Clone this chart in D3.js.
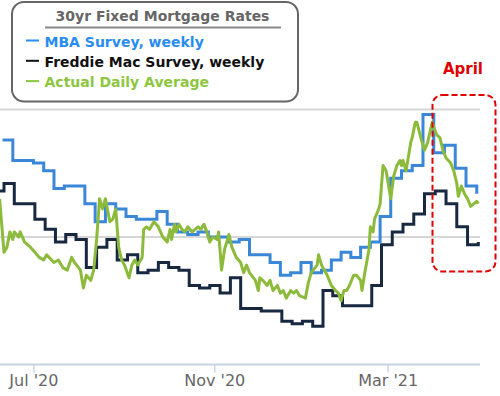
<!DOCTYPE html>
<html>
<head>
<meta charset="utf-8">
<script src="https://cdn.jsdelivr.net/npm/d3@7"></script>
<style>
  html, body { margin: 0; padding: 0; background: #fff; }
  svg { display: block; font-family: "DejaVu Sans", Verdana, sans-serif; }
</style>
</head>
<body>
<div id="chart"></div>
<script>
// Freddie Mac PMMS, weekly (Thursdays) starting 2020-06-04
const freddieStart = "2020-06-04";
const freddieRates = [3.18, 3.21, 3.13, 3.13, 3.07, 3.03, 2.98, 3.01, 2.99, 2.88, 2.96, 2.99,
  2.91, 2.93, 2.86, 2.87, 2.90, 2.88, 2.87, 2.81, 2.80, 2.81, 2.78, 2.84, 2.72, 2.72, 2.71, 2.71,
  2.67, 2.66, 2.67, 2.65, 2.79, 2.77, 2.73, 2.73, 2.73, 2.81, 2.97, 3.02, 3.05, 3.09, 3.17, 3.18,
  3.13, 3.04, 2.97, 2.98];

// MBA survey, weekly (Wednesdays) starting 2020-06-10
const mbaStart = "2020-06-10";
const mbaRates = [3.38, 3.30, 3.30, 3.29, 3.26, 3.19, 3.20, 3.20, 3.13, 3.06, 3.13, 3.11,
  3.08, 3.07, 3.07, 3.10, 3.05, 3.02, 3.01, 3.02, 3.00, 3.00, 2.98, 2.99, 2.93, 2.93, 2.90, 2.85,
  2.86, 2.90, 2.86, 2.87, 2.91, 2.94, 2.92, 2.96, 2.98, 3.08, 3.23, 3.26, 3.28, 3.48, 3.33, 3.36,
  3.27, 3.20, 3.17];

// actual daily average
const dailyDates = ["2020-06-08", "2020-06-11", "2020-06-13", "2020-06-15", "2020-06-17", "2020-06-18",
  "2020-06-21", "2020-06-22", "2020-06-25", "2020-06-29", "2020-07-02", "2020-07-05", "2020-07-08",
  "2020-07-10", "2020-07-15", "2020-07-18", "2020-07-21", "2020-07-24", "2020-07-27", "2020-07-29",
  "2020-08-02", "2020-08-04", "2020-08-06", "2020-08-09", "2020-08-11", "2020-08-13", "2020-08-15",
  "2020-08-17", "2020-08-19", "2020-08-22", "2020-08-24", "2020-08-26", "2020-08-28", "2020-08-30",
  "2020-09-01", "2020-09-04", "2020-09-06", "2020-09-08", "2020-09-10", "2020-09-13", "2020-09-14",
  "2020-09-16", "2020-09-18", "2020-09-21", "2020-09-24", "2020-09-27", "2020-09-30", "2020-10-02",
  "2020-10-03", "2020-10-05", "2020-10-06", "2020-10-08", "2020-10-10", "2020-10-12", "2020-10-14",
  "2020-10-17", "2020-10-19", "2020-10-21", "2020-10-23", "2020-10-25", "2020-10-27", "2020-10-29",
  "2020-10-31", "2020-11-03", "2020-11-04", "2020-11-06", "2020-11-08", "2020-11-11", "2020-11-13",
  "2020-11-16", "2020-11-19", "2020-11-21", "2020-11-23", "2020-11-25", "2020-11-29", "2020-12-01",
  "2020-12-02", "2020-12-04", "2020-12-07", "2020-12-09", "2020-12-11", "2020-12-14", "2020-12-16",
  "2020-12-18", "2020-12-20", "2020-12-23", "2020-12-25", "2020-12-27", "2020-12-29", "2021-01-02",
  "2021-01-04", "2021-01-06", "2021-01-10", "2021-01-11", "2021-01-13", "2021-01-15", "2021-01-17",
  "2021-01-20", "2021-01-23", "2021-01-25", "2021-01-27", "2021-01-29", "2021-01-31", "2021-02-02",
  "2021-02-05", "2021-02-07", "2021-02-10", "2021-02-11", "2021-02-13", "2021-02-16", "2021-02-17",
  "2021-02-19", "2021-02-20", "2021-02-23", "2021-02-24", "2021-02-26", "2021-02-28", "2021-03-03",
  "2021-03-05", "2021-03-07", "2021-03-09", "2021-03-10", "2021-03-11", "2021-03-13", "2021-03-16",
  "2021-03-17", "2021-03-19", "2021-03-20", "2021-03-23", "2021-03-25", "2021-03-27", "2021-03-30",
  "2021-03-31", "2021-04-02", "2021-04-04", "2021-04-06", "2021-04-08", "2021-04-11", "2021-04-13",
  "2021-04-15", "2021-04-16", "2021-04-18", "2021-04-20", "2021-04-22", "2021-04-24", "2021-04-26",
  "2021-04-28", "2021-04-29"];
const dailyRates = [3.15, 2.94, 2.96, 3.02, 2.99, 3.02,
  3.00, 3.02, 2.98, 2.96, 2.94, 2.92, 2.91,
  2.93, 2.90, 2.91, 2.88, 2.87, 2.92, 2.90,
  2.87, 2.80, 2.85, 2.83, 2.87, 2.99, 3.15,
  3.11, 3.15, 3.06, 3.07, 3.11, 2.96, 2.91,
  2.89, 2.84, 2.89, 2.91, 2.89, 2.92, 3.03,
  3.04, 3.03, 3.06, 3.04, 3.00, 2.98, 3.03,
  2.99, 3.05, 3.02, 3.05, 3.03, 3.02, 3.04,
  3.02, 3.03, 3.04, 3.03, 3.05, 3.02, 2.98,
  3.00, 2.99, 3.02, 2.87, 2.95, 3.01, 2.96,
  2.92, 2.90, 2.86, 2.89, 2.86, 2.83, 2.79,
  2.84, 2.83, 2.81, 2.83, 2.79, 2.81, 2.78,
  2.79, 2.76, 2.79, 2.78, 2.79, 2.77, 2.76,
  2.82, 2.86, 2.89, 2.93, 2.89, 2.87, 2.85,
  2.81, 2.79, 2.78, 2.75, 2.79, 2.79, 2.81,
  2.85, 2.85, 2.83, 2.79, 2.86, 2.95, 3.04,
  3.02, 3.07, 3.11, 3.13, 3.28, 3.26, 3.15,
  3.24, 3.28, 3.30, 3.28, 3.30, 3.26, 3.37,
  3.39, 3.45, 3.45, 3.38, 3.34, 3.37, 3.45,
  3.43, 3.40, 3.39, 3.34, 3.31, 3.29, 3.26,
  3.21, 3.16, 3.20, 3.17, 3.15, 3.12, 3.13,
  3.14, 3.13];

const tickDates = ["2020-07-01", "2020-11-01", "2021-03-01"];
const gridRates = [3.0, 3.5];
const seriesNames = ["MBA Survey, weekly", "Freddie Mac Survey, weekly", "Actual Daily Average"];
const seriesColors = ["#3a87d8", "#172840", "#8cbb3c"];
const legendTextColors = ["#2a8cf0", "#111111", "#8dc63f"];

const width = 500;
const height = 396;
const plotRight = 480;
const plotBottom = 364.5;

const parse = d3.timeParse("%Y-%m-%d");

let svg, x, y;

function createSvg() {
  svg = d3.select("#chart")
    .append("svg")
    .attr("width", width)
    .attr("height", height);

  svg.append("defs").append("clipPath")
    .attr("id", "plot-clip")
    .append("rect")
    .attr("x", 0).attr("y", 0)
    .attr("width", plotRight).attr("height", plotBottom);
}

function createScales() {
  // the original used an ordinal (business day) axis, so spacing bends slightly
  // around the holidays; a few knots on a time scale imitate that
  x = d3.scaleTime()
    .domain(["2020-06-11", "2021-01-14", "2021-02-25", "2021-04-29"].map(parse))
    .range([4, 323, 381.5, 478.3]);

  y = d3.scaleLinear()
    .domain([2.5, 3.5])
    .range([plotBottom, 109.5]);
}

function drawGrid() {
  svg.append("g")
    .selectAll("line")
    .data(gridRates)
    .enter()
    .append("line")
    .attr("x1", 0)
    .attr("x2", plotRight)
    .attr("y1", d => y(d))
    .attr("y2", d => y(d))
    .attr("stroke", "#d6d6d6")
    .attr("stroke-width", 2);
}

function drawAxis() {
  const axis = d3.axisBottom(x)
    .tickValues(tickDates.map(parse))
    .tickFormat(d3.timeFormat("%b '%y"))
    .tickSize(8)
    .tickPadding(2);

  const g = svg.append("g")
    .attr("transform", "translate(0," + plotBottom + ")")
    .call(axis);

  g.select(".domain").remove();
  g.selectAll(".tick line").attr("stroke", "#ccd6eb").attr("stroke-width", 1.5);
  g.selectAll(".tick text")
    .attr("fill", "#666666")
    .style("font-size", "16px")
    .style("font-family", "'DejaVu Sans', Verdana, sans-serif");

  svg.append("line")
    .attr("x1", 0).attr("x2", plotRight)
    .attr("y1", plotBottom).attr("y2", plotBottom)
    .attr("stroke", "#c8d3e2")
    .attr("stroke-width", 2);
}

function drawLines() {
  const weekly = (start, rates) => rates.map((v, i) => ({
    date: d3.timeWeek.offset(parse(start), i),
    value: v
  }));
  const mba = weekly(mbaStart, mbaRates);
  const freddie = weekly(freddieStart, freddieRates);
  const daily = dailyDates.map((d, i) => ({ date: parse(d), value: dailyRates[i] }));

  const step = d3.line()
    .x(d => x(d.date))
    .y(d => y(d.value))
    .curve(d3.curveStepAfter);

  const plain = d3.line()
    .x(d => x(d.date))
    .y(d => y(d.value));

  const g = svg.append("g").attr("clip-path", "url(#plot-clip)");

  g.append("path")
    .datum(freddie)
    .attr("d", step)
    .attr("fill", "none")
    .attr("stroke", seriesColors[1])
    .attr("stroke-width", 3);

  g.append("path")
    .datum(mba)
    .attr("d", step)
    .attr("fill", "none")
    .attr("stroke", seriesColors[0])
    .attr("stroke-width", 3);

  g.append("path")
    .datum(daily)
    .attr("d", plain)
    .attr("fill", "none")
    .attr("stroke", seriesColors[2])
    .attr("stroke-width", 3)
    .attr("stroke-linejoin", "round");
}

function drawLegend() {
  const g = svg.append("g");

  g.append("rect")
    .attr("x", 12).attr("y", 2)
    .attr("width", 286).attr("height", 99.5)
    .attr("rx", 12)
    .attr("fill", "#fff")
    .attr("stroke", "#666")
    .attr("stroke-width", 2);

  g.append("text")
    .text("30yr Fixed Mortgage Rates")
    .attr("x", 162.5)
    .attr("y", 21)
    .attr("text-anchor", "middle")
    .attr("fill", "#666")
    .style("font-size", "14px")
    .style("font-weight", "bold");

  g.append("line")
    .attr("x1", 45).attr("x2", 281)
    .attr("y1", 27.5).attr("y2", 27.5)
    .attr("stroke", "#888")
    .attr("stroke-width", 2);

  const items = g.selectAll("g.item")
    .data(seriesNames)
    .enter()
    .append("g")
    .attr("class", "item")
    .attr("transform", (d, i) => "translate(0," + (46.5 + i * 20.3) + ")");

  items.append("line")
    .attr("x1", 26).attr("x2", 39)
    .attr("y1", -6).attr("y2", -6)
    .attr("stroke", (d, i) => legendTextColors[i])
    .attr("stroke-width", 2);

  items.append("text")
    .text(d => d)
    .attr("x", 44.5)
    .attr("y", 0)
    .attr("fill", (d, i) => legendTextColors[i])
    .style("font-size", "14px")
    .style("font-weight", "bold");
}

function drawAnnotation() {
  svg.append("rect")
    .attr("x", 432.5).attr("y", 95)
    .attr("width", 63).attr("height", 176.5)
    .attr("rx", 10)
    .attr("fill", "none")
    .attr("stroke", "#e00000")
    .attr("stroke-width", 2)
    .attr("stroke-dasharray", "6,3");

  svg.append("text")
    .text("April")
    .attr("x", 463)
    .attr("y", 74)
    .attr("text-anchor", "middle")
    .attr("fill", "#e00000")
    .style("font-size", "15px")
    .style("font-weight", "bold");
}

createSvg();
createScales();
drawGrid();
drawAxis();
drawLines();
drawLegend();
drawAnnotation();
</script>
</body>
</html>
